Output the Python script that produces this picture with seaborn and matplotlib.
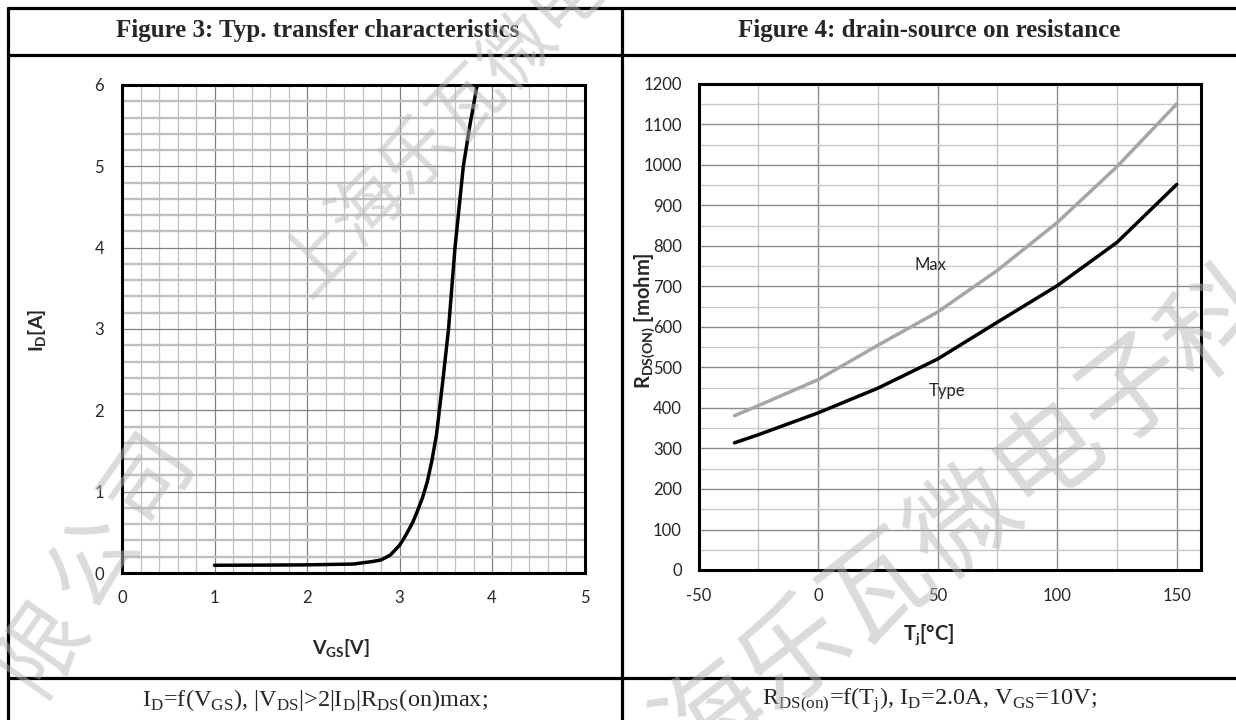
#Recreating datasheet figures 3 and 4 (transfer characteristics, on resistance)

#Importing libraries
import matplotlib
matplotlib.use('Agg')
import numpy as np
import pandas as pd
import matplotlib.pyplot as plt
from matplotlib.lines import Line2D
from matplotlib.ticker import MultipleLocator
import seaborn as sns

#Figure 3 data: I_D vs V_GS
vgs = [1.0, 1.5, 2.0, 2.5, 2.7, 2.8, 2.9, 3.0, 3.05, 3.1, 3.15, 3.2, 3.25, 3.3, 3.35, 3.4,
       3.47, 3.53, 3.6, 3.69, 3.76, 3.84]
id_amp = [0.095, 0.097, 0.1, 0.11, 0.14, 0.16, 0.22, 0.34, 0.43, 0.53, 0.64, 0.78, 0.93, 1.12, 1.38, 1.7,
          2.38, 3.0, 4.0, 5.0, 5.5, 6.0]

#Figure 4 data: R_DS(on) vs T_j
tj = [-35, -25, 0, 25, 50, 75, 100, 125, 150]
r_max = [381, 406, 470, 555, 637, 740, 858, 996, 1151]
r_typ = [314, 334, 388, 449, 521, 612, 702, 809, 952]

titles = ['Figure 3: Typ. transfer characteristics', 'Figure 4: drain-source on resistance']
captions = ['I$_\\mathregular{D}$=f(V$_\\mathregular{GS}$), |V$_\\mathregular{DS}$|>2|I$_\\mathregular{D}$|R$_\\mathregular{DS}$(on)max;',
            'R$_\\mathregular{DS(on)}$=f(T$_\\mathregular{j}$), I$_\\mathregular{D}$=2.0A, V$_\\mathregular{GS}$=10V;']

df3 = pd.DataFrame({'VGS': vgs, 'ID': id_amp})
df4 = pd.DataFrame({'Tj': tj, 'Max': r_max, 'Type': r_typ})

sns.set_style('white')
plt.rcParams['font.family'] = ['Lato', 'DejaVu Sans']
plt.rcParams['axes.unicode_minus'] = False

W, H = 1236, 720
fig = plt.figure(figsize=(12.36, 7.2), dpi=100)

def px(x0, y0, x1, y1):
    return [x0 / W, 1 - y1 / H, (x1 - x0) / W, (y1 - y0) / H]

ax1 = fig.add_axes(px(122, 85, 584.5, 573))
ax2 = fig.add_axes(px(698.6, 84, 1200.7, 570))

#left chart
sns.lineplot(data=df3, x='VGS', y='ID', ax=ax1, color='black', lw=2.5, sort=False)
ax1.set_xlim(0, 5)
ax1.set_ylim(0, 6)
ax1.xaxis.set_major_locator(MultipleLocator(1))
ax1.xaxis.set_minor_locator(MultipleLocator(0.2))
ax1.yaxis.set_major_locator(MultipleLocator(1))
ax1.yaxis.set_minor_locator(MultipleLocator(0.2))
ax1.grid(which='major', color='#808080', lw=0.9)
ax1.grid(which='minor', axis='x', color='#c0c0c0', lw=0.9)
ax1.grid(which='minor', axis='y', color='#bfbfbf', lw=1.7)
ax1.tick_params(axis='x', which='both', length=0, pad=12, labelsize=12)
ax1.tick_params(axis='y', which='both', length=0, pad=13, labelsize=12)
ax1.set_xlabel('')
ax1.set_ylabel('')
ax1.text(-0.183, 0.496, 'I$_\\mathregular{D}$[A]', transform=ax1.transAxes, rotation=90,
         ha='center', va='center', fontsize=14, fontweight='bold')
ax1.text(0.474, -0.156, 'V$_\\mathregular{GS}$[V]', transform=ax1.transAxes,
         ha='center', va='center', fontsize=14, fontweight='bold')

#right chart
sns.lineplot(data=df4, x='Tj', y='Max', ax=ax2, color='#a6a6a6', lw=2.5)
sns.lineplot(data=df4, x='Tj', y='Type', ax=ax2, color='black', lw=2.5)
ax2.set_xlim(-50, 160)
ax2.set_ylim(0, 1200)
ax2.set_xticks(np.arange(-50, 151, 50))
ax2.xaxis.set_minor_locator(MultipleLocator(25))
ax2.yaxis.set_major_locator(MultipleLocator(100))
ax2.yaxis.set_minor_locator(MultipleLocator(50))
ax2.grid(which='major', axis='x', color='#8c8c8c', lw=1.0)
ax2.grid(which='minor', axis='x', color='#c8c8c8', lw=1.0)
ax2.grid(which='major', axis='y', color='#8c8c8c', lw=1.0)
ax2.grid(which='minor', axis='y', color='#c8c8c8', lw=1.0)
ax2.tick_params(axis='x', which='both', length=0, pad=13, labelsize=12)
ax2.tick_params(axis='y', which='both', length=0, pad=12, labelsize=12)
ax2.set_xlabel('')
ax2.set_ylabel('')
ax2.text(47, 752, 'Max', ha='center', va='center', fontsize=12)
ax2.text(54, 441, 'Type', ha='center', va='center', fontsize=12)
ax2.text(-0.107, 0.514, 'R$_\\mathregular{DS(ON)}$ [mohm]', transform=ax2.transAxes, rotation=90,
         ha='center', va='center', fontsize=14.5, fontweight='bold')
ax2.text(0.458, -0.134, 'T$_\\mathregular{j}$[°C]', transform=ax2.transAxes,
         ha='center', va='center', fontsize=14.5, fontweight='bold')

for ax in (ax1, ax2):
    ax.set_axisbelow(True)
    for s in ax.spines.values():
        s.set_color('black')
        s.set_linewidth(2.2)

#table frame around the two figures
def hline(y, x0=8, x1=W):
    fig.add_artist(Line2D([x0 / W, x1 / W], [1 - y / H, 1 - y / H], color='black', lw=2.3))

def vline(x, y0=8, y1=H):
    fig.add_artist(Line2D([x / W, x / W], [1 - y0 / H, 1 - y1 / H], color='black', lw=2.3))

hline(8)
hline(55)
hline(678)
vline(8)
vline(622)

fig.text(318 / W, 1 - 31 / H, titles[0], ha='center', va='center', family='Liberation Serif',
         fontsize=18, fontweight='bold')
fig.text(929 / W, 1 - 31 / H, titles[1], ha='center', va='center', family='Liberation Serif',
         fontsize=18, fontweight='bold')
fig.text(315 / W, 1 - 700 / H, captions[0], ha='center', va='center', family='Liberation Serif', fontsize=17.5)
fig.text(929 / W, 1 - 700 / H, captions[1], ha='center', va='center', family='Liberation Serif', fontsize=17.5)

#watermark
def watermark(text, cx, cy, angle, size):
    a = np.deg2rad(angle)
    em = size * 100 / 72
    x0 = cx - 0.5 * em * np.cos(a)
    y0 = cy + 0.5 * em * np.sin(a)
    fig.text(x0 / W, 1 - y0 / H, text, rotation=angle, rotation_mode='anchor', ha='left', va='center',
             family=['Noto Sans CJK SC', 'DejaVu Sans'], fontweight='light', fontsize=size,
             color='#b8b8b8', alpha=0.5)

watermark('上海乐瓦微电子科技', 318, 258, 46, 52)
watermark('司', 148, 478, 55, 64)
watermark('公', 95, 562, 55, 64)
watermark('限', 42, 646, 55, 64)
watermark('海乐瓦微电子科技', 712, 720, 38, 77)

plt.savefig('out.png', dpi=100)
